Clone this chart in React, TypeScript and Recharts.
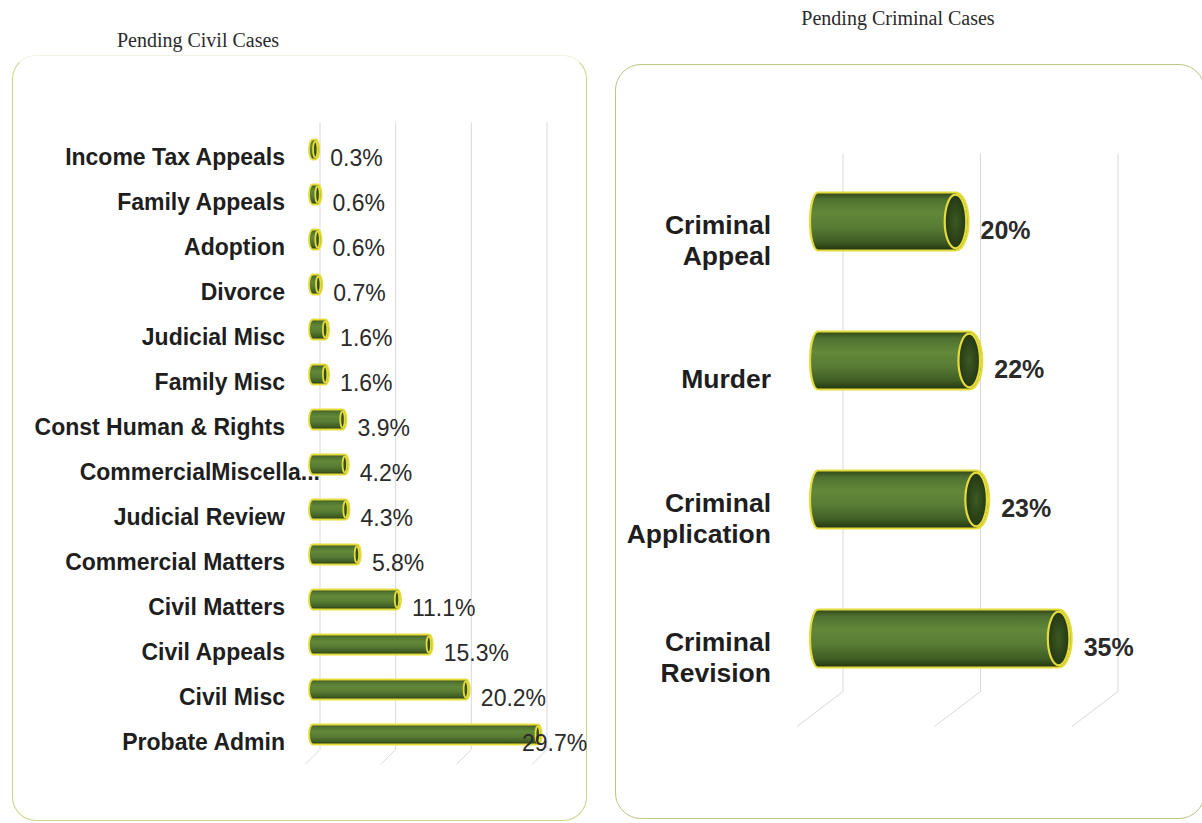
import React from 'react';
import { BarChart, Bar, XAxis, YAxis, CartesianGrid } from 'recharts';

// ---------- DATA ----------
const civilCategories = [
  'Income Tax Appeals',
  'Family Appeals',
  'Adoption',
  'Divorce',
  'Judicial Misc',
  'Family Misc',
  'Const Human & Rights',
  'CommercialMiscella...',
  'Judicial Review',
  'Commercial Matters',
  'Civil Matters',
  'Civil Appeals',
  'Civil Misc',
  'Probate Admin',
];
const civilValues = [0.3, 0.6, 0.6, 0.7, 1.6, 1.6, 3.9, 4.2, 4.3, 5.8, 11.1, 15.3, 20.2, 29.7];
const civilTicks = [0, 10, 20, 30];

const criminalCategories = ['Criminal Appeal', 'Murder', 'Criminal Application', 'Criminal Revision'];
const criminalLabelLines = [['Criminal', 'Appeal'], ['Murder'], ['Criminal', 'Application'], ['Criminal', 'Revision']];
const criminalValues = [20, 22, 23, 35];
const criminalTicks = [0, 20, 40];

const civilTitle = 'Pending Civil Cases';
const criminalTitle = 'Pending Criminal Cases';

const civilData = civilCategories.map((name, i) => ({ name, value: civilValues[i] }));
const criminalData = criminalCategories.map((name, i) => ({
  name,
  value: criminalValues[i],
  lines: criminalLabelLines[i],
}));

// ---------- STYLE ----------
const SANS = "'Liberation Sans', Arial, sans-serif";
const SERIF = "'Liberation Serif', 'Times New Roman', serif";
const YELLOW = '#e4dc3a';
const GRID = '#d9d9d9';

const Defs = ({ id }: { id: string }) => (
  <defs>
    <linearGradient id={id} x1="0" y1="0" x2="0" y2="1">
      <stop offset="0%" stopColor="#2f4519" />
      <stop offset="12%" stopColor="#4f7230" />
      <stop offset="35%" stopColor="#628839" />
      <stop offset="60%" stopColor="#587c34" />
      <stop offset="85%" stopColor="#3f5d24" />
      <stop offset="100%" stopColor="#22330f" />
    </linearGradient>
    <radialGradient id={id + '-cap'} cx="0.5" cy="0.5" r="0.6">
      <stop offset="0%" stopColor="#3c5a22" />
      <stop offset="100%" stopColor="#1f3010" />
    </radialGradient>
  </defs>
);

const makeCylinder = (opts: { dx: number; dy: number; rxL: number; rxR: number; sw: number; id: string }) =>
  (props: any) => {
    const { x, y, width, height } = props;
    if (x == null || y == null) return <g />;
    const h = height;
    const x0 = x + opts.dx;
    const x1 = x + Math.max(width, 0) + opts.dx;
    const yc = y + h / 2 + opts.dy;
    const top = yc - h / 2;
    const bot = yc + h / 2;
    const ry = h / 2;
    const d = `M ${x0} ${top} L ${x1} ${top} A ${opts.rxR} ${ry} 0 0 1 ${x1} ${bot} L ${x0} ${bot} A ${opts.rxL} ${ry} 0 0 1 ${x0} ${top} Z`;
    return (
      <g>
        <Defs id={opts.id} />
        <path d={d} fill={`url(#${opts.id})`} stroke={YELLOW} strokeWidth={opts.sw} />
        <ellipse
          cx={x1}
          cy={yc}
          rx={Math.max(opts.rxR - opts.sw, 1)}
          ry={ry - opts.sw}
          fill={`url(#${opts.id}-cap)`}
          stroke={YELLOW}
          strokeWidth={opts.sw}
        />
      </g>
    );
  };

const makeGridLine = (dx: number, dy: number, trim: number) => (props: any) => {
  const { x1, y1, x2, y2 } = props;
  return (
    <g key={`g-${x1}`}>
      <line x1={x1 + dx} y1={y1 + dy + trim} x2={x2 + dx} y2={y2 + dy} stroke={GRID} strokeWidth={1} />
      <line x1={x2 + dx} y1={y2 + dy} x2={x2} y2={y2} stroke={GRID} strokeWidth={1} />
    </g>
  );
};

const makeVerticalGen = (ticks: number[], max: number) => (args: any) => {
  const { xAxis, offset } = args || {};
  return ticks.map((t) => {
    if (xAxis && typeof xAxis.scale === 'function') {
      const v = xAxis.scale(t);
      if (typeof v === 'number' && !Number.isNaN(v)) return v;
    }
    return offset.left + (t / max) * offset.width;
  });
};

// ---------- LEFT (CIVIL) LAYOUT ----------
const L_W = 600;
const L_H = 823;
const L_MARGIN = { top: 134.5, bottom: 58.5, left: 5, right: 68 };
const L_YAXIS_W = 300;
const L_PLOT_RIGHT = L_W - L_MARGIN.right;

const civilTick = (props: any) => {
  const { x, y, payload } = props;
  const overflow = String(payload.value).endsWith('...') ? 35 : 0;
  return (
    <text
      x={x + overflow}
      y={y}
      dy="0.35em"
      textAnchor="end"
      fontFamily={SANS}
      fontWeight="bold"
      fontSize={23}
      fill="#1e1e1e"
    >
      {payload.value}
    </text>
  );
};

const civilLabel = (props: any) => {
  const { x, y, width, height, value } = props;
  const end = x + 8 + width + 4 + 11;
  const tx = Math.min(end, L_PLOT_RIGHT - 10);
  return (
    <text x={tx} y={y + height / 2} dy="0.35em" fontFamily={SANS} fontSize={23} fill="#2a2a2a">
      {`${value}%`}
    </text>
  );
};

// ---------- RIGHT (CRIMINAL) LAYOUT ----------
const R_W = 602;
const R_H = 823;
const R_MARGIN = { top: 170.5, bottom: 96.5, left: 7, right: 130 };
const R_YAXIS_W = 190;

const criminalTick = (props: any) => {
  const { x, y, payload, index } = props;
  const lines: string[] = criminalLabelLines[index] || [String(payload.value)];
  const lh = 31;
  const start = -((lines.length - 1) / 2) * lh;
  return (
    <text x={x} y={y} textAnchor="end" fontFamily={SANS} fontWeight="bold" fontSize={26.5} fill="#1e1e1e">
      {lines.map((ln, i) => (
        <tspan key={i} x={x} dy={i === 0 ? start + 9 : lh}>
          {ln}
        </tspan>
      ))}
    </text>
  );
};

const criminalLabel = (props: any) => {
  const { x, y, width, height, value } = props;
  const tx = x + 21 + width + 13 + 12;
  return (
    <text x={tx} y={y + height / 2 - 10} dy="0.35em" fontFamily={SANS} fontWeight="bold" fontSize={25} fill="#2a2a2a">
      {`${value}%`}
    </text>
  );
};

export default function App() {
  return (
    <div style={{ position: 'absolute', left: 0, top: 0, width: 1202, height: 823, background: '#ffffff', overflow: 'hidden' }}>
      {/* panel frames */}
      <div
        style={{
          position: 'absolute',
          left: 12,
          top: 55,
          width: 575,
          height: 766,
          boxSizing: 'border-box',
          borderStyle: 'solid',
          borderWidth: 1.5,
          borderColor: '#f1f3e4 #cdd48a #cdd48a #cdd48a',
          borderRadius: 24,
        }}
      />
      <div
        style={{
          position: 'absolute',
          left: 615,
          top: 64,
          width: 590,
          height: 755,
          boxSizing: 'border-box',
          border: '1.5px solid #bcc685',
          borderRadius: 26,
        }}
      />
      {/* titles */}
      <div
        style={{
          position: 'absolute',
          left: 48,
          width: 300,
          top: 28,
          textAlign: 'center',
          fontFamily: SERIF,
          fontSize: 20,
          color: '#2b2b2b',
          lineHeight: '24px',
        }}
      >
        {civilTitle}
      </div>
      <div
        style={{
          position: 'absolute',
          left: 748,
          width: 300,
          top: 6,
          textAlign: 'center',
          fontFamily: SERIF,
          fontSize: 20,
          color: '#2b2b2b',
          lineHeight: '24px',
        }}
      >
        {criminalTitle}
      </div>

      {/* civil chart */}
      <div style={{ position: 'absolute', left: 0, top: 0 }}>
        <BarChart width={L_W} height={L_H} data={civilData} layout="vertical" margin={L_MARGIN}>
          <CartesianGrid
            horizontal={false}
            vertical={makeGridLine(15, -15, 3)}
            verticalCoordinatesGenerator={makeVerticalGen(civilTicks, 30)}
          />
          <XAxis
            type="number"
            domain={[0, 30]}
            ticks={civilTicks}
            interval={0}
            height={0}
            tick={false}
            axisLine={false}
            tickLine={false}
          />
          <YAxis
            type="category"
            dataKey="name"
            width={L_YAXIS_W}
            axisLine={false}
            tickLine={false}
            tickSize={0}
            tickMargin={20}
            interval={0}
            tick={civilTick}
          />
          <Bar
            dataKey="value"
            barSize={20}
            isAnimationActive={false}
            shape={makeCylinder({ dx: 8, dy: -8, rxL: 4, rxR: 4, sw: 1.8, id: 'civGrad' })}
            label={civilLabel}
          />
        </BarChart>
      </div>

      {/* criminal chart */}
      <div style={{ position: 'absolute', left: 600, top: 0 }}>
        <BarChart width={R_W} height={R_H} data={criminalData} layout="vertical" margin={R_MARGIN}>
          <CartesianGrid
            horizontal={false}
            vertical={makeGridLine(46, -35, 18)}
            verticalCoordinatesGenerator={makeVerticalGen(criminalTicks, 40)}
          />
          <XAxis
            type="number"
            domain={[0, 40]}
            ticks={criminalTicks}
            interval={0}
            height={0}
            tick={false}
            axisLine={false}
            tickLine={false}
          />
          <YAxis
            type="category"
            dataKey="name"
            width={R_YAXIS_W}
            axisLine={false}
            tickLine={false}
            tickSize={0}
            tickMargin={26}
            interval={0}
            tick={criminalTick}
          />
          <Bar
            dataKey="value"
            barSize={58}
            isAnimationActive={false}
            shape={makeCylinder({ dx: 21, dy: -19, rxL: 8, rxR: 13, sw: 2.2, id: 'crimGrad' })}
            label={criminalLabel}
          />
        </BarChart>
      </div>
    </div>
  );
}
